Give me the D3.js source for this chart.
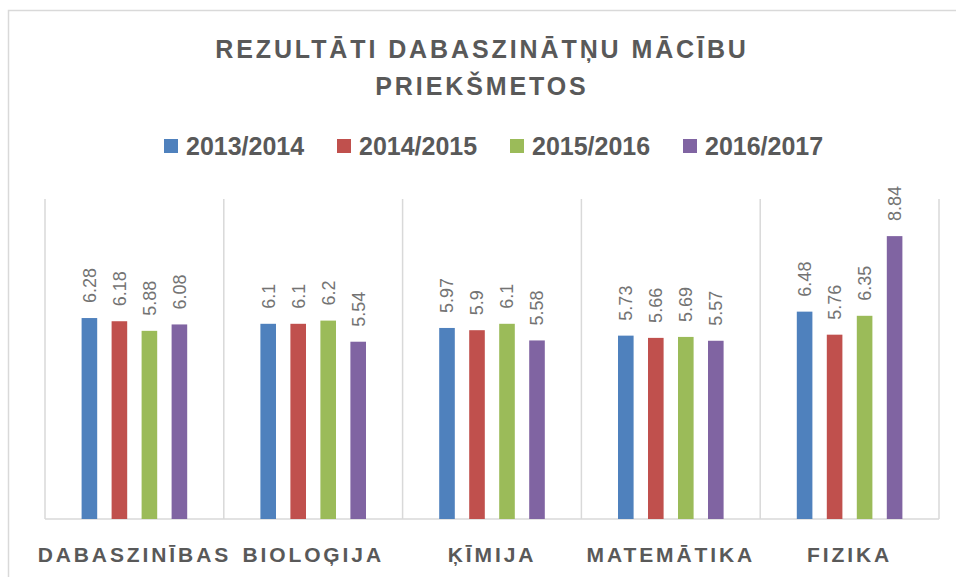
<!DOCTYPE html>
<html>
<head>
<meta charset="utf-8">
<script src="https://cdn.jsdelivr.net/npm/d3@7"></script>
<style>
  html, body { margin: 0; padding: 0; background: #fff; }
  svg { display: block; }
</style>
</head>
<body>
<svg id="chart" width="956" height="577"></svg>
<script>
// Subjects (categories) and school years (series)
const subjects = ["DABASZINĪBAS", "BIOLOĢIJA", "ĶĪMIJA", "MATEMĀTIKA", "FIZIKA"];
const years = ["2013/2014", "2014/2015", "2015/2016", "2016/2017"];
const colors = ["#4f81bd", "#c0504d", "#9bbb59", "#8064a2"];

// Average results per year, in subject order
const y2013 = [6.28, 6.1, 5.97, 5.73, 6.48];
const y2014 = [6.18, 6.1, 5.9, 5.66, 5.76];
const y2015 = [5.88, 6.2, 6.1, 5.69, 6.35];
const y2016 = [6.08, 5.54, 5.58, 5.57, 8.84];
const seriesValues = [y2013, y2014, y2015, y2016];

const titleLines = ["REZULTĀTI DABASZINĀTŅU MĀCĪBU", "PRIEKŠMETOS"];

const svg = d3.select("#chart");
const font = "'Liberation Sans', Arial, sans-serif";
const textColor = "#595959";
const gridColor = "#d9d9d9";

// Outer chart frame
svg.append("rect")
  .attr("x", 8.5).attr("y", 10.5)
  .attr("width", 1000).attr("height", 1000)
  .attr("fill", "#fff")
  .attr("stroke", gridColor).attr("stroke-width", 1.5);

const plot = { left: 45, right: 939, top: 199, bottom: 519 };

const x0 = d3.scaleBand()
  .domain(subjects)
  .range([plot.left, plot.right])
  .padding(0);

const x1 = d3.scaleBand()
  .domain(years)
  .range([0, x0.bandwidth()])
  .paddingInner(0.48)
  .paddingOuter(1.22);

const y = d3.scaleLinear()
  .domain([0, 10])
  .range([plot.bottom, plot.top]);

// Category separators
const bounds = subjects.map(s => x0(s)).concat([plot.right]);
svg.append("g")
  .selectAll("line")
  .data(bounds)
  .join("line")
  .attr("x1", d => d).attr("x2", d => d)
  .attr("y1", plot.top).attr("y2", plot.bottom)
  .attr("stroke", gridColor).attr("stroke-width", 1.5);

// Baseline
svg.append("line")
  .attr("x1", plot.left).attr("x2", plot.right)
  .attr("y1", plot.bottom).attr("y2", plot.bottom)
  .attr("stroke", gridColor).attr("stroke-width", 1.5);

// Bars and rotated value labels
const rows = [];
subjects.forEach((s, i) => {
  years.forEach((yr, j) => {
    rows.push({ subject: s, year: yr, value: seriesValues[j][i], color: colors[j] });
  });
});

const g = svg.append("g");
g.selectAll("rect.bar")
  .data(rows)
  .join("rect")
  .attr("class", "bar")
  .attr("x", d => x0(d.subject) + x1(d.year))
  .attr("y", d => y(d.value))
  .attr("width", x1.bandwidth())
  .attr("height", d => y(0) - y(d.value))
  .attr("fill", d => d.color);

g.selectAll("text.val")
  .data(rows)
  .join("text")
  .attr("class", "val")
  .attr("transform", d => {
    const cx = x0(d.subject) + x1(d.year) + x1.bandwidth() / 2;
    return `translate(${cx},${y(d.value) - 15}) rotate(-90)`;
  })
  .attr("dy", "0.36em")
  .attr("text-anchor", "start")
  .attr("font-family", font)
  .attr("font-size", 18)
  .attr("fill", "#737373")
  .text(d => String(d.value));

// Category axis labels
svg.append("g")
  .selectAll("text")
  .data(subjects)
  .join("text")
  .attr("x", d => x0(d) + x0.bandwidth() / 2)
  .attr("y", 562)
  .attr("text-anchor", "middle")
  .attr("font-family", font)
  .attr("font-weight", "bold")
  .attr("font-size", 21)
  .attr("letter-spacing", 2.9)
  .attr("fill", textColor)
  .text(d => d);

// Title
svg.append("g")
  .selectAll("text")
  .data(titleLines)
  .join("text")
  .attr("x", 482)
  .attr("y", (d, i) => 58 + i * 37)
  .attr("text-anchor", "middle")
  .attr("font-family", font)
  .attr("font-weight", "bold")
  .attr("font-size", 25)
  .attr("letter-spacing", 2.9)
  .attr("fill", textColor)
  .text(d => d);

// Legend
const legendX = [164, 337, 510, 683];
const legend = svg.append("g")
  .selectAll("g")
  .data(years)
  .join("g")
  .attr("transform", (d, i) => `translate(${legendX[i]},0)`);
legend.append("rect")
  .attr("x", 0).attr("y", 139)
  .attr("width", 14).attr("height", 14)
  .attr("fill", (d, i) => colors[i]);
legend.append("text")
  .attr("x", 22).attr("y", 155)
  .attr("font-family", font)
  .attr("font-weight", "bold")
  .attr("font-size", 25)
  .attr("fill", textColor)
  .text(d => d);
</script>
</body>
</html>
